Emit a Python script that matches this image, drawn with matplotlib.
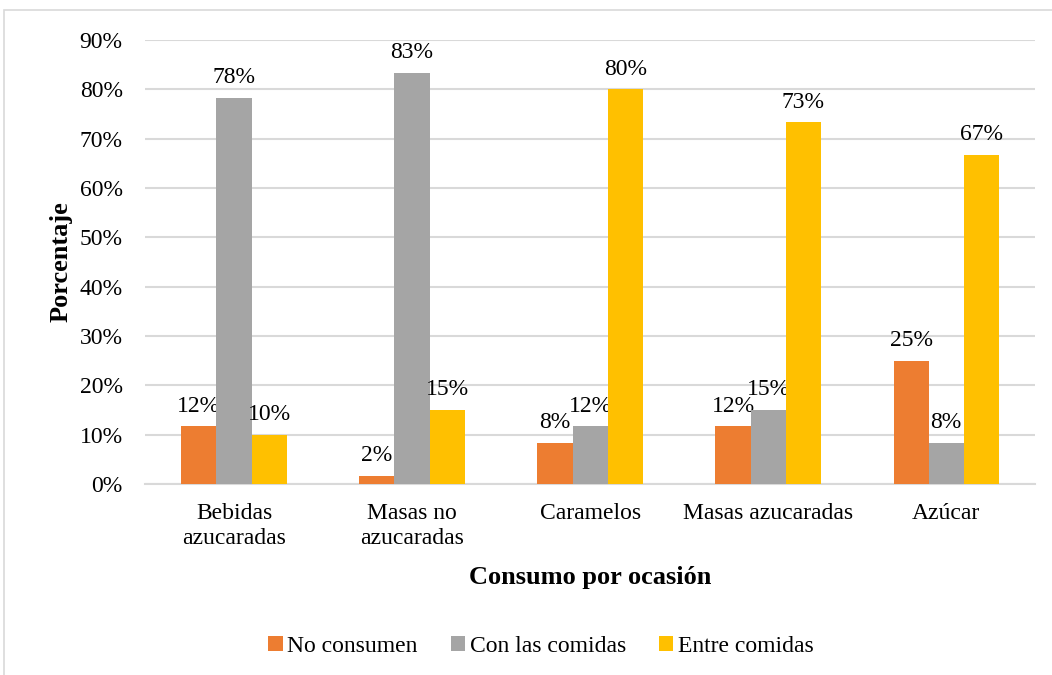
import matplotlib
matplotlib.use("Agg")
import matplotlib.pyplot as plt
import numpy as np
from matplotlib.patches import Rectangle

categories = ["Bebidas\nazucaradas", "Masas no\nazucaradas", "Caramelos", "Masas azucaradas", "Azúcar"]
series_names = ["No consumen", "Con las comidas", "Entre comidas"]
no_consumen = [11.7, 1.7, 8.3, 11.7, 25.0]
con_comidas = [78.3, 83.3, 11.7, 15.0, 8.3]
entre_comidas = [10.0, 15.0, 80.0, 73.3, 66.7]
colors = ["#ED7D31", "#A5A5A5", "#FFC000"]
yticks = [0, 10, 20, 30, 40, 50, 60, 70, 80, 90]

plt.rcParams['font.family'] = ['Liberation Serif', 'DejaVu Serif']

FS = 17

fig = plt.figure(figsize=(10.52, 6.75), dpi=100)
ax = fig.add_axes([0.1378, 0.283, 0.8462, 0.6577])

# border of chart area
fig.patches.append(Rectangle((4/1052, -0.05), 1.2, (675-10)/675 + 0.05, transform=fig.transFigure,
                             fill=False, edgecolor="#d9d9d9", linewidth=1.2))

x = np.arange(len(categories))
w = 0.197
for i, (vals, name, c) in enumerate(zip([no_consumen, con_comidas, entre_comidas], series_names, colors)):
    pos = x + (i - 1) * w
    ax.bar(pos, vals, width=w, color=c, label=name, zorder=3)
    for px, v in zip(pos, vals):
        ax.annotate(f"{round(v):.0f}%", (px, v), xytext=(0, 7), textcoords="offset points",
                    ha="center", va="bottom", fontsize=FS, color="#000000")

ax.set_xlim(-0.5, 4.5)
ax.set_ylim(0, 90)
ax.set_yticks(yticks)
ax.set_yticklabels([f"{t}%" for t in yticks], fontsize=FS)
ax.set_xticks(x)
ax.set_xticklabels(categories, fontsize=FS, linespacing=1.25)
ax.tick_params(axis="y", length=0, pad=16)
ax.tick_params(axis="x", length=0, pad=14)
ax.grid(axis="y", color="#d9d9d9", linewidth=1.5, zorder=0)
for s in ["top", "right", "left"]:
    ax.spines[s].set_visible(False)
ax.spines["bottom"].set_color("#d9d9d9")
ax.spines["bottom"].set_linewidth(1.5)

ax.set_xlabel("Consumo por ocasión", fontsize=19, fontweight="bold", labelpad=12)
ax.set_ylabel("Porcentaje", fontsize=19, fontweight="bold", labelpad=5)

leg = fig.legend(loc="center", bbox_to_anchor=(541/1052, 1-646/675), ncol=3, frameon=False,
                 fontsize=FS, handlelength=0.6, handleheight=0.6, handletextpad=0.2, columnspacing=1.4)

fig.savefig("out.png", dpi=100)
